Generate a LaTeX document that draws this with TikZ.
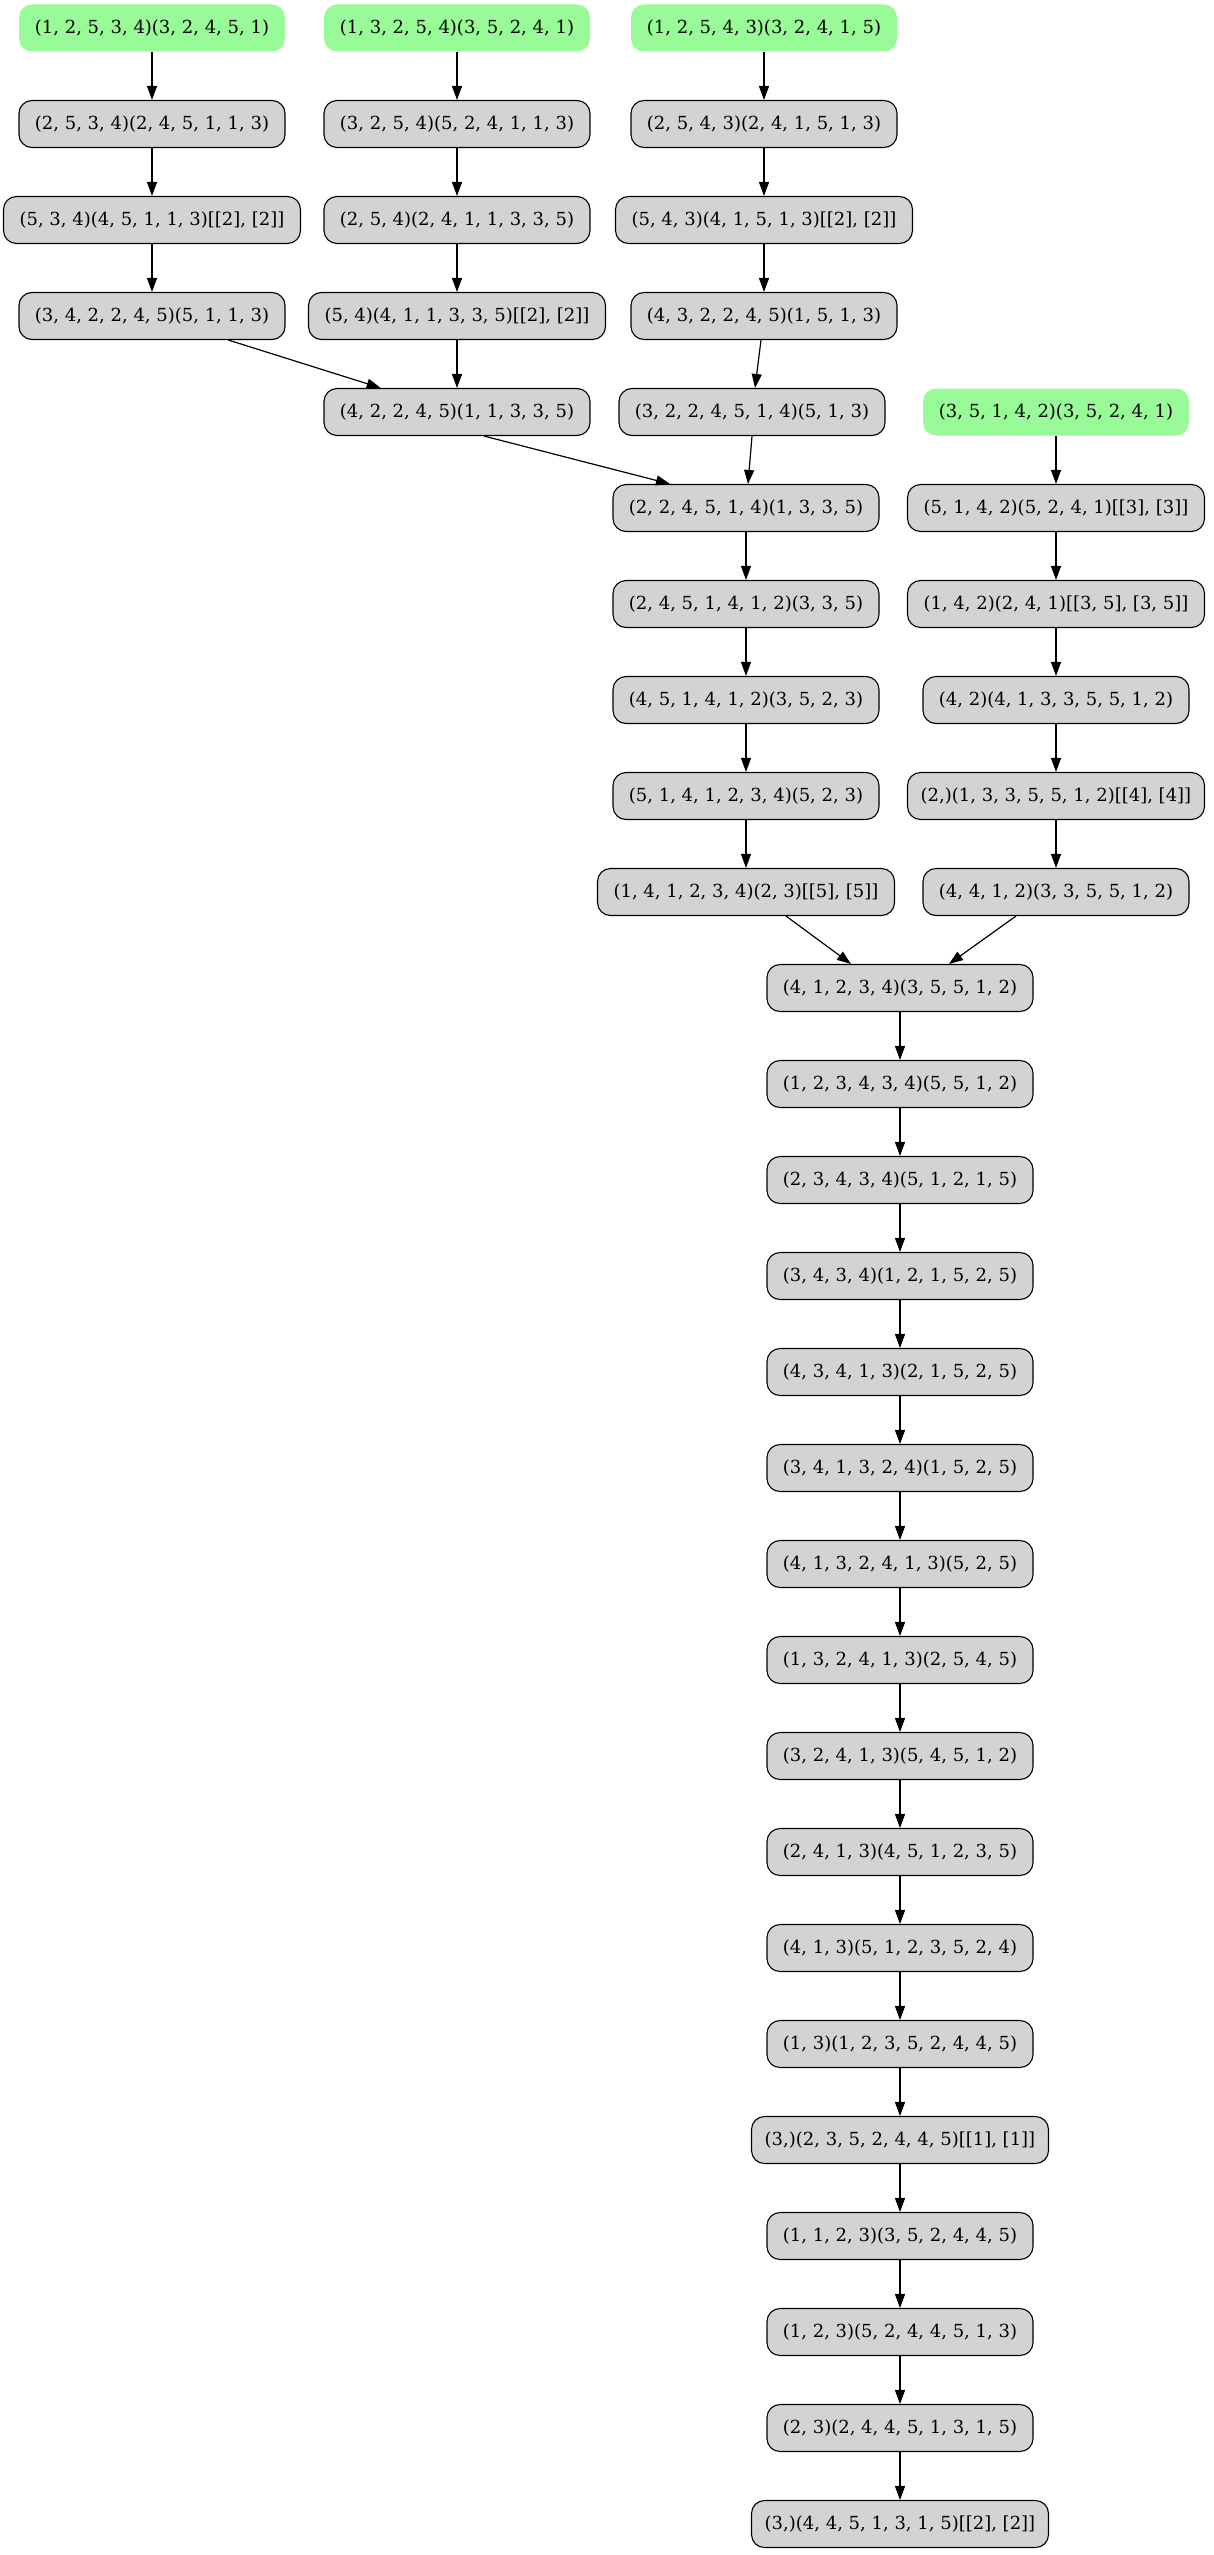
\documentclass[tikz,border=0pt]{standalone}
\usepackage{fontspec}
\setmainfont{DejaVu Serif}
\usetikzlibrary{arrows.meta}
\definecolor{pgreen}{HTML}{98FB98}
\definecolor{lgray}{HTML}{D3D3D3}
\begin{document}
\begin{tikzpicture}[x=1pt,y=-1pt,
  box/.style={rectangle, rounded corners=13pt, minimum height=47pt, minimum width=266pt, inner xsep=4pt, inner ysep=0pt, font=\fontsize{18}{20}\selectfont, text=black},
  grey/.style={box, draw=black, line width=1.1pt, fill=lgray},
  start/.style={box, fill=pgreen},
  wide/.style={minimum width=297pt},
  edge/.style={-{Triangle[length=14pt,width=10pt]}, line width=1.2pt, draw=black}]
\useasboundingbox (0,0) rectangle (1213,2555);
% row 0
\node[start] (a0) at (152,28) {(1, 2, 5, 3, 4)(3, 2, 4, 5, 1)};
\node[start] (b0) at (457,28) {(1, 3, 2, 5, 4)(3, 5, 2, 4, 1)};
\node[start] (c0) at (764,28) {(1, 2, 5, 4, 3)(3, 2, 4, 1, 5)};
% row 1
\node[grey] (a1) at (152,124) {(2, 5, 3, 4)(2, 4, 5, 1, 1, 3)};
\node[grey] (b1) at (457,124) {(3, 2, 5, 4)(5, 2, 4, 1, 1, 3)};
\node[grey] (c1) at (764,124) {(2, 5, 4, 3)(2, 4, 1, 5, 1, 3)};
% row 2
\node[grey,wide] (a2) at (152,220) {(5, 3, 4)(4, 5, 1, 1, 3)[[2], [2]]};
\node[grey] (b2) at (457,220) {(2, 5, 4)(2, 4, 1, 1, 3, 3, 5)};
\node[grey,wide] (c2) at (764,220) {(5, 4, 3)(4, 1, 5, 1, 3)[[2], [2]]};
% row 3
\node[grey] (a3) at (152,316) {(3, 4, 2, 2, 4, 5)(5, 1, 1, 3)};
\node[grey,wide] (b3) at (457,316) {(5, 4)(4, 1, 1, 3, 3, 5)[[2], [2]]};
\node[grey] (c3) at (764,316) {(4, 3, 2, 2, 4, 5)(1, 5, 1, 3)};
% row 4
\node[grey] (b4) at (457,412) {(4, 2, 2, 4, 5)(1, 1, 3, 3, 5)};
\node[grey] (c4) at (752,412) {(3, 2, 2, 4, 5, 1, 4)(5, 1, 3)};
\node[start] (d4) at (1056,412) {(3, 5, 1, 4, 2)(3, 5, 2, 4, 1)};
% rows 5-9
\node[grey] (m5) at (746,508) {(2, 2, 4, 5, 1, 4)(1, 3, 3, 5)};
\node[grey,wide] (d5) at (1056,508) {(5, 1, 4, 2)(5, 2, 4, 1)[[3], [3]]};
\node[grey] (m6) at (746,604) {(2, 4, 5, 1, 4, 1, 2)(3, 3, 5)};
\node[grey,wide] (d6) at (1056,604) {(1, 4, 2)(2, 4, 1)[[3, 5], [3, 5]]};
\node[grey] (m7) at (746,700) {(4, 5, 1, 4, 1, 2)(3, 5, 2, 3)};
\node[grey] (d7) at (1056,700) {(4, 2)(4, 1, 3, 3, 5, 5, 1, 2)};
\node[grey] (m8) at (746,796) {(5, 1, 4, 1, 2, 3, 4)(5, 2, 3)};
\node[grey,wide] (d8) at (1056,796) {(2,)(1, 3, 3, 5, 5, 1, 2)[[4], [4]]};
\node[grey,wide] (m9) at (746,892) {(1, 4, 1, 2, 3, 4)(2, 3)[[5], [5]]};
\node[grey] (d9) at (1056,892) {(4, 4, 1, 2)(3, 3, 5, 5, 1, 2)};
% bottom chain
\node[grey] (r10) at (900,988) {(4, 1, 2, 3, 4)(3, 5, 5, 1, 2)};
\node[grey] (r11) at (900,1084) {(1, 2, 3, 4, 3, 4)(5, 5, 1, 2)};
\node[grey] (r12) at (900,1180) {(2, 3, 4, 3, 4)(5, 1, 2, 1, 5)};
\node[grey] (r13) at (900,1276) {(3, 4, 3, 4)(1, 2, 1, 5, 2, 5)};
\node[grey] (r14) at (900,1372) {(4, 3, 4, 1, 3)(2, 1, 5, 2, 5)};
\node[grey] (r15) at (900,1468) {(3, 4, 1, 3, 2, 4)(1, 5, 2, 5)};
\node[grey] (r16) at (900,1564) {(4, 1, 3, 2, 4, 1, 3)(5, 2, 5)};
\node[grey] (r17) at (900,1660) {(1, 3, 2, 4, 1, 3)(2, 5, 4, 5)};
\node[grey] (r18) at (900,1756) {(3, 2, 4, 1, 3)(5, 4, 5, 1, 2)};
\node[grey] (r19) at (900,1852) {(2, 4, 1, 3)(4, 5, 1, 2, 3, 5)};
\node[grey] (r20) at (900,1948) {(4, 1, 3)(5, 1, 2, 3, 5, 2, 4)};
\node[grey] (r21) at (900,2044) {(1, 3)(1, 2, 3, 5, 2, 4, 4, 5)};
\node[grey,wide] (r22) at (900,2140) {(3,)(2, 3, 5, 2, 4, 4, 5)[[1], [1]]};
\node[grey] (r23) at (900,2236) {(1, 1, 2, 3)(3, 5, 2, 4, 4, 5)};
\node[grey] (r24) at (900,2332) {(1, 2, 3)(5, 2, 4, 4, 5, 1, 3)};
\node[grey] (r25) at (900,2428) {(2, 3)(2, 4, 4, 5, 1, 3, 1, 5)};
\node[grey,wide] (r26) at (900,2524) {(3,)(4, 4, 5, 1, 3, 1, 5)[[2], [2]]};
% edges
\draw[edge] (a0) -- (a1);
\draw[edge] (a1) -- (a2);
\draw[edge] (a2) -- (a3);
\draw[edge] (a3) -- (b4);
\draw[edge] (b0) -- (b1);
\draw[edge] (b1) -- (b2);
\draw[edge] (b2) -- (b3);
\draw[edge] (b3) -- (b4);
\draw[edge] (c0) -- (c1);
\draw[edge] (c1) -- (c2);
\draw[edge] (c2) -- (c3);
\draw[edge] (c3) -- (c4);
\draw[edge] ([xshift=27pt]b4.south) -- ([xshift=-76pt]m5.north);
\draw[edge] (c4.south) -- ([xshift=2pt]m5.north);
\draw[edge] (m5) -- (m6);
\draw[edge] (m6) -- (m7);
\draw[edge] (m7) -- (m8);
\draw[edge] (m8) -- (m9);
\draw[edge] (d4) -- (d5);
\draw[edge] (d5) -- (d6);
\draw[edge] (d6) -- (d7);
\draw[edge] (d7) -- (d8);
\draw[edge] (d8) -- (d9);
\draw[edge] ([xshift=40pt]m9.south) -- ([xshift=-49pt]r10.north);
\draw[edge] ([xshift=-40pt]d9.south) -- ([xshift=49pt]r10.north);
\draw[edge] (r10) -- (r11);
\draw[edge] (r11) -- (r12);
\draw[edge] (r12) -- (r13);
\draw[edge] (r13) -- (r14);
\draw[edge] (r14) -- (r15);
\draw[edge] (r15) -- (r16);
\draw[edge] (r16) -- (r17);
\draw[edge] (r17) -- (r18);
\draw[edge] (r18) -- (r19);
\draw[edge] (r19) -- (r20);
\draw[edge] (r20) -- (r21);
\draw[edge] (r21) -- (r22);
\draw[edge] (r22) -- (r23);
\draw[edge] (r23) -- (r24);
\draw[edge] (r24) -- (r25);
\draw[edge] (r25) -- (r26);
\end{tikzpicture}
\end{document}
